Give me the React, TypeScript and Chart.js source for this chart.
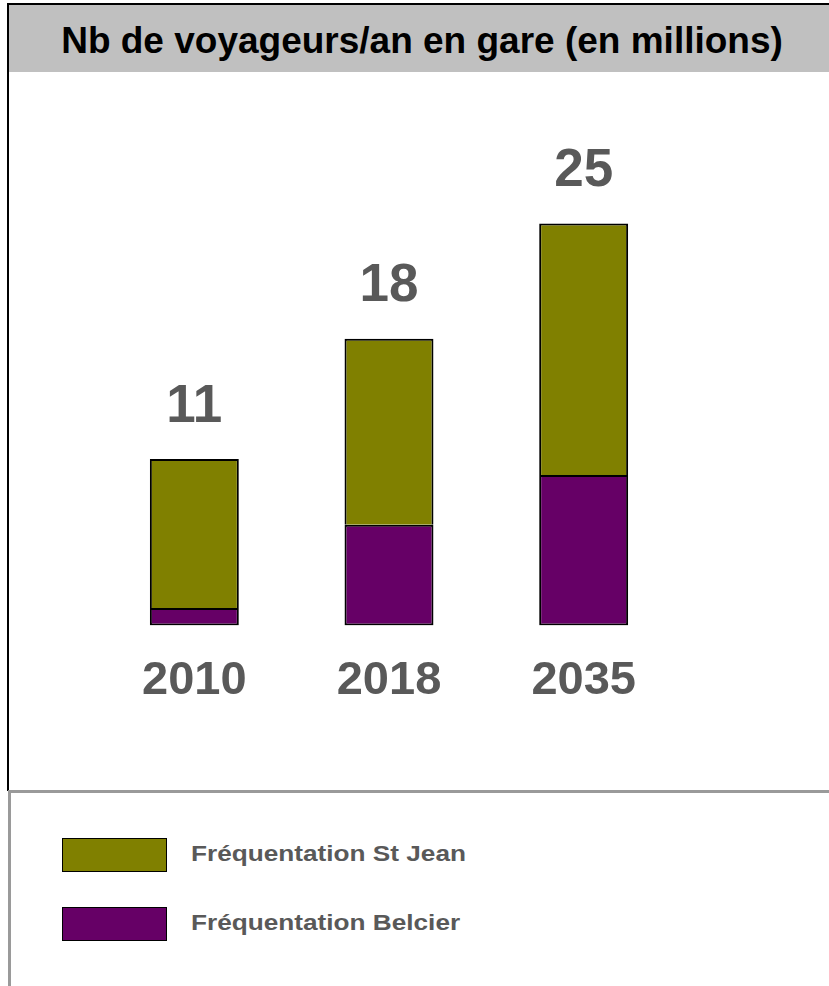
import React, { useEffect, useRef } from "react";
import { Chart, registerables } from "chart.js";

Chart.register(...registerables);

const titleText = "Nb de voyageurs/an en gare (en millions)";
const years = ["2010", "2018", "2035"];
const seriesNames = ["Fréquentation St Jean", "Fréquentation Belcier"];
const stJean = [9.3, 11.6, 15.7];
const belcier = [1.1, 6.3, 9.4];
const totalLabels = ["11", "18", "25"];
const colorStJean = "#808000";
const colorBelcier = "#660066";

const FONT = '"Liberation Sans", Arial, Helvetica, sans-serif';

const totalsPlugin = {
  id: "totals",
  afterDatasetsDraw(chart: any) {
    const ctx = chart.ctx;
    const meta = chart.getDatasetMeta(1);
    ctx.save();
    ctx.font = `bold 53px ${FONT}`;
    ctx.fillStyle = "#595959";
    ctx.textAlign = "center";
    ctx.textBaseline = "middle";
    meta.data.forEach((bar: any, i: number) => {
      ctx.fillText(totalLabels[i], bar.x, bar.y - 52);
    });
    ctx.restore();
  },
};

export default function App() {
  const ref = useRef<HTMLCanvasElement | null>(null);

  useEffect(() => {
    if (!ref.current) return;
    const chart = new Chart(ref.current, {
      type: "bar",
      data: {
        labels: years,
        datasets: [
          {
            label: seriesNames[1],
            data: belcier,
            backgroundColor: colorBelcier,
            borderColor: "#000",
            borderWidth: 2,
            borderSkipped: false,
            barPercentage: 0.457,
            categoryPercentage: 1,
          },
          {
            label: seriesNames[0],
            data: stJean,
            backgroundColor: colorStJean,
            borderColor: "#000",
            borderWidth: 2,
            borderSkipped: "start",
            barPercentage: 0.457,
            categoryPercentage: 1,
          },
        ],
      },
      options: {
        animation: false,
        responsive: false,
        maintainAspectRatio: false,
        layout: { padding: { left: 97, right: 148, top: 145, bottom: 54 } },
        plugins: {
          legend: { display: false },
          tooltip: { enabled: false },
          title: { display: false },
        },
        scales: {
          x: {
            stacked: true,
            grid: { display: false, drawTicks: false },
            border: { display: false },
            ticks: {
              padding: 27,
              color: "#595959",
              font: { family: FONT, size: 47, weight: "bold" },
            },
          },
          y: {
            stacked: true,
            display: false,
            min: 0,
            max: 30,
          },
        },
      },
      plugins: [totalsPlugin],
    });
    return () => chart.destroy();
  }, []);

  const legendItems = [
    { name: seriesNames[0], color: colorStJean, top: 838 },
    { name: seriesNames[1], color: colorBelcier, top: 907 },
  ];

  return (
    <div
      style={{
        position: "absolute",
        left: 0,
        top: 0,
        width: 829,
        height: 986,
        background: "#fff",
        overflow: "hidden",
        fontFamily: FONT,
      }}
    >
      <canvas
        ref={ref}
        width={829}
        height={790}
        style={{ position: "absolute", left: 0, top: 0, width: 829, height: 790 }}
      />
      {/* title bar */}
      <div
        style={{
          position: "absolute",
          left: 7,
          top: 3,
          width: 822,
          height: 69,
          background: "#C0C0C0",
          borderTop: "2px solid #000",
          paddingTop: 5,
          paddingLeft: 8,
          boxSizing: "border-box",
          display: "flex",
          alignItems: "center",
          justifyContent: "center",
          fontWeight: "bold",
          fontSize: 37,
          color: "#000",
          whiteSpace: "nowrap",
        }}
      >
        {titleText}
      </div>
      {/* left border top part */}
      <div style={{ position: "absolute", left: 7, top: 3, width: 2, height: 788, background: "#000" }} />
      {/* separator */}
      <div style={{ position: "absolute", left: 8, top: 790, width: 821, height: 3, background: "#9a9a9a" }} />
      <div style={{ position: "absolute", left: 8, top: 790, width: 3, height: 196, background: "#9a9a9a" }} />
      {legendItems.map((it) => (
        <div key={it.name}>
          <div
            style={{
              position: "absolute",
              left: 62,
              top: it.top,
              width: 105,
              height: 34,
              background: it.color,
              border: "1.5px solid #000",
              boxSizing: "border-box",
            }}
          />
          <div
            style={{
              position: "absolute",
              left: 191,
              top: it.top + 2,
              height: 28,
              lineHeight: "28px",
              fontSize: 22,
              fontWeight: "bold",
              color: "#595959",
              whiteSpace: "nowrap",
              transform: "scaleX(1.19)",
              transformOrigin: "left center",
            }}
          >
            {it.name}
          </div>
        </div>
      ))}
    </div>
  );
}
